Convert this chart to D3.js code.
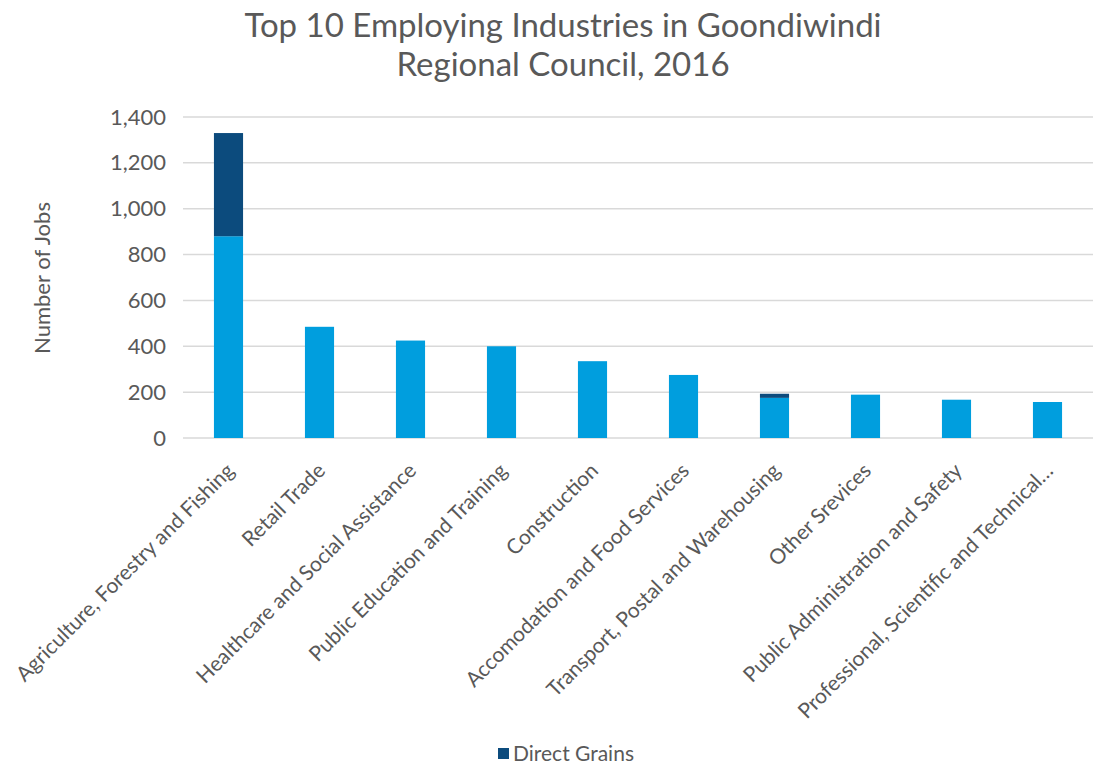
<!DOCTYPE html>
<html>
<head>
<meta charset="utf-8">
<script src="https://cdn.jsdelivr.net/npm/d3@7"></script>
<style>
  body { margin: 0; background: #fff; }
  svg text { font-family: "Lato", "Open Sans", sans-serif; fill: #595959; }
</style>
</head>
<body>
<svg id="chart" width="1093" height="766"></svg>
<script>
// industries, in chart order
var categories = [
    'Agriculture, Forestry and Fishing',
    'Retail Trade',
    'Healthcare and Social Assistance',
    'Public Education and Training',
    'Construction',
    'Accomodation and Food Services',
    'Transport, Postal and Warehousing',
    'Other Srevices',
    'Public Administration and Safety',
    'Professional, Scientific and Technical\u2026'
];

// jobs outside the grains sector (unlabelled series)
var otherJobs = [880, 485, 425, 400, 335, 275, 175, 189, 167, 157];

// Direct Grains jobs
var directGrains = [450, 0, 0, 0, 0, 0, 18, 0, 0, 0];

var yTicks = [0, 200, 400, 600, 800, 1000, 1200, 1400];

var titleLines = ['Top 10 Employing Industries in Goondiwindi', 'Regional Council, 2016'];

(function () {
    var svg = d3.select('#chart');

    var margin = { left: 183, right: 0, top: 117, bottom: 328 };
    var width = 1093 - margin.left - margin.right;
    var height = 766 - margin.top - margin.bottom;

    var colors = { other: '#009EDE', grains: '#0C4B7D' };

    // build rows for the stack
    var rows = categories.map(function (c, i) {
        return { name: c, other: otherJobs[i], grains: directGrains[i] };
    });
    var series = d3.stack().keys(['other', 'grains'])(rows);

    var x = d3.scaleBand()
        .domain(categories)
        .range([0, width])
        .paddingInner(0.68)
        .paddingOuter(0.34);

    var y = d3.scaleLinear()
        .domain([0, 1400])
        .range([height, 0]);

    var g = svg.append('g')
        .attr('transform', 'translate(' + margin.left + ',' + margin.top + ')');

    // gridlines
    g.append('g')
        .selectAll('line')
        .data(yTicks)
        .enter()
        .append('line')
        .attr('x1', 0)
        .attr('x2', width)
        .attr('y1', function (d) { return y(d); })
        .attr('y2', function (d) { return y(d); })
        .attr('stroke', '#D9D9D9')
        .attr('stroke-width', 1.5);

    // y axis labels
    var yAxis = d3.axisLeft(y)
        .tickValues(yTicks)
        .tickFormat(d3.format(','))
        .tickSize(0)
        .tickPadding(17);
    g.append('g')
        .call(yAxis)
        .call(function (a) { a.select('.domain').remove(); })
        .selectAll('text')
        .style('font-size', '22px')
        .attr('fill', '#595959');

    // bars
    g.selectAll('g.series')
        .data(series)
        .enter()
        .append('g')
        .attr('class', 'series')
        .attr('fill', function (s) { return colors[s.key]; })
        .selectAll('rect')
        .data(function (s) { return s.filter(function (d) { return d[1] > d[0]; }); })
        .enter()
        .append('rect')
        .attr('x', function (d) { return x(d.data.name); })
        .attr('width', x.bandwidth())
        .attr('y', function (d) { return y(d[1]); })
        .attr('height', function (d) { return y(d[0]) - y(d[1]); });

    // category labels, rotated
    var xAxis = d3.axisBottom(x).tickSize(0).tickPadding(0);
    g.append('g')
        .attr('transform', 'translate(0,' + height + ')')
        .call(xAxis)
        .call(function (a) { a.select('.domain').remove(); })
        .selectAll('text')
        .style('font-size', '21px')
        .attr('fill', '#595959')
        .attr('text-anchor', 'end')
        .attr('dy', 0)
        .attr('transform', 'translate(7,34) rotate(-45)');

    // axis title
    svg.append('text')
        .attr('transform', 'translate(50,278) rotate(-90)')
        .attr('text-anchor', 'middle')
        .style('font-size', '22px')
        .text('Number of Jobs');

    // chart title
    svg.append('text')
        .attr('text-anchor', 'middle')
        .style('font-size', '33px')
        .selectAll('tspan')
        .data(titleLines)
        .enter()
        .append('tspan')
        .attr('x', 563)
        .attr('y', function (d, i) { return 37 + i * 39; })
        .text(function (d) { return d; });

    // legend
    var legend = svg.append('g').attr('transform', 'translate(498,748)');
    legend.append('rect')
        .attr('width', 11)
        .attr('height', 11)
        .attr('fill', colors.grains);
    legend.append('text')
        .attr('x', 15)
        .attr('y', 13)
        .style('font-size', '21px')
        .text('Direct Grains');
})();
</script>
</body>
</html>
